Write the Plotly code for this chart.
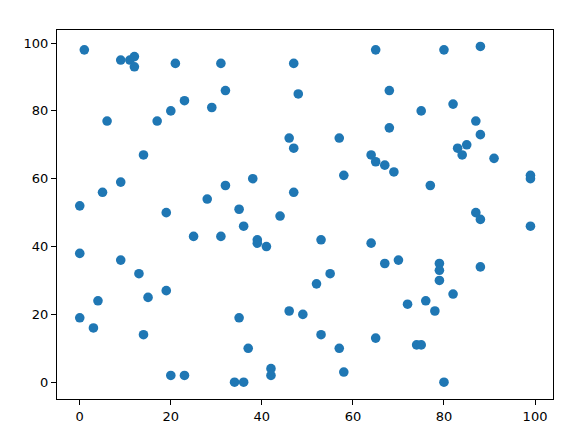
import plotly.graph_objects as go

x_vals = [1, 9, 11, 12, 12, 6, 21, 31, 23, 29, 20, 17, 32, 14, 9, 0, 5, 19, 28, 32,
          0, 9, 25, 31, 35, 36, 38, 39, 39, 41, 44, 13, 4, 15, 19, 0, 3, 14, 35, 37,
          20, 23, 34, 36, 42, 42, 46, 47, 47, 48, 47, 46, 49, 52, 53, 55, 53, 57, 58, 57,
          58, 65, 64, 65, 67, 69, 68, 68, 64, 67, 70, 65, 72, 74, 75, 76, 78, 79, 79, 79,
          82, 80, 80, 88, 75, 82, 77, 83, 84, 85, 87, 88, 91, 87, 88, 88, 99, 99, 99]
y_vals = [98, 95, 95, 96, 93, 77, 94, 94, 83, 81, 80, 77, 86, 67, 59, 52, 56, 50, 54, 58,
          38, 36, 43, 43, 51, 46, 60, 42, 41, 40, 49, 32, 24, 25, 27, 19, 16, 14, 19, 10,
          2, 2, 0, 0, 4, 2, 72, 69, 94, 85, 56, 21, 20, 29, 42, 32, 14, 10, 3, 72,
          61, 98, 67, 65, 64, 62, 86, 75, 41, 35, 36, 13, 23, 11, 11, 24, 21, 35, 33, 30,
          26, 0, 98, 99, 80, 82, 58, 69, 67, 70, 77, 73, 66, 50, 48, 34, 61, 60, 46]
tick_vals = [0, 20, 40, 60, 80, 100]

fig = go.Figure(go.Scatter(
    x=x_vals, y=y_vals, mode="markers",
    marker=dict(color="#1f77b4", size=9.6, line=dict(width=0)),
))

axis_common = dict(
    showgrid=False, zeroline=False, showline=True, linecolor="black", linewidth=1,
    mirror=True, ticks="outside", ticklen=5, tickwidth=1, tickcolor="black",
    tickvals=tick_vals, automargin=False,
    tickfont=dict(family="DejaVu Sans", size=13, color="black"),
)
fig.update_xaxes(range=[-5.0, 103.95], **axis_common)
fig.update_yaxes(range=[-4.95, 103.85], **axis_common)

fig.update_layout(
    width=577, height=436,
    margin=dict(l=57, r=24, t=30, b=37, pad=0),
    paper_bgcolor="white", plot_bgcolor="white",
    showlegend=False,
)
fig.write_html("out.html", config={"displayModeBar": False},
               post_script="document.body.style.margin='0';document.body.style.overflow='hidden';")
